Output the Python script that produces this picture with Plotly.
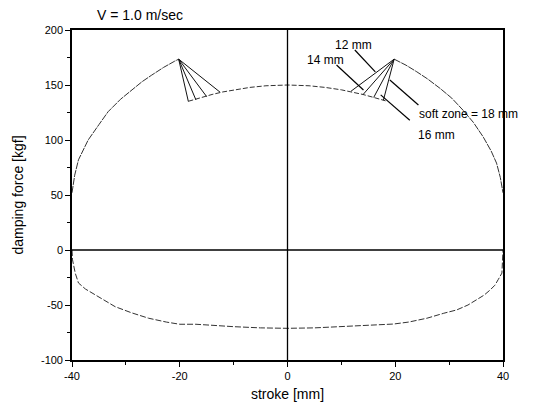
import plotly.graph_objects as go

# Upper (compression) outer curve, left branch
up_left_x = [-40, -39.5, -38.8, -37.0, -35.0, -33.3, -31.0, -28.9, -27.0, -25.2, -23.0, -21.0, -20.2]
up_left_y = [52, 68, 82, 100, 114, 125.7, 137, 145.5, 153, 159, 166, 171.5, 173.5]
# Upper outer curve, right branch
up_right_x = [19.8, 22.0, 24.0, 26.0, 28.3, 30.5, 32.6, 34.5, 36.3, 37.8, 38.8, 39.5, 40]
up_right_y = [173.5, 168, 162, 155.5, 147, 138, 127, 116, 103, 90, 79, 66, 52]
# Upper inner (soft zone) curve
inner_x = [-18.4, -17, -16, -14, -12, -10, -7, -4, 0, 4, 7, 10, 12, 14, 16, 17, 18.2]
inner_y = [135.2, 137.2, 138.7, 141.4, 143.7, 145.6, 147.8, 149.3, 150, 149.3, 147.8, 145.6, 143.7, 141.4, 138.7, 137.2, 135.6]
# Fan lines: peak to soft-zone end points
peak_left = (-20.2, 173.5)
peak_right = (19.8, 173.5)
fan_left_x = [-18.4, -17.0, -15.0, -12.5]
fan_left_y = [135.0, 136.5, 139.4, 143.4]
fan_right_x = [17.8, 16.0, 14.0, 11.8]
fan_right_y = [136.2, 138.7, 141.2, 144.4]
# Lower (rebound) curve
low_x = [-40, -39.9, -39.4, -38.8, -37.5, -36.3, -34, -32, -29, -25.8, -22.5, -20, -17, -14, -10, -5, 0,
         5, 10.4, 14, 17, 19.7, 22.5, 25.9, 29, 31.4, 33.5, 35.1, 36.5, 37.6, 38.5, 39.1, 39.8, 40]
low_y = [0, -9, -21, -30, -35.5, -39, -46, -51.5, -57, -62, -65.5, -67.5, -67.5, -68.5, -69.7, -70.8, -71.2,
         -70.8, -69.5, -68.5, -67.5, -67.3, -65.5, -62, -57.5, -54.5, -50, -45.5, -41, -36.4, -32, -27, -21, 0]

labels = ["12 mm", "14 mm", "soft zone = 18 mm", "16 mm"]
label_x = [8.4, 3.2, 24.0, 23.9]
label_y = [186, 172.7, 123.6, 104.5]
leader_x0 = [12.5, 9.1, 24.3, 22.7]
leader_y0 = [181.8, 168.2, 131.8, 118.0]
leader_x1 = [16.3, 14.1, 19.0, 17.3]
leader_y1 = [162.0, 145.5, 154.5, 141.0]

FONT = "Liberation Sans, Arial, sans-serif"
LC = "#333333"

fig = go.Figure()
fig.add_trace(go.Scatter(x=up_left_x, y=up_left_y, mode="lines", line=dict(color=LC, width=1, dash="7px,1px")))
fig.add_trace(go.Scatter(x=up_right_x, y=up_right_y, mode="lines", line=dict(color=LC, width=1, dash="7px,1px")))
fig.add_trace(go.Scatter(x=inner_x, y=inner_y, mode="lines", line=dict(color=LC, width=1, dash="5px,2px")))
fig.add_trace(go.Scatter(x=low_x, y=low_y, mode="lines", line=dict(color=LC, width=1, dash="6px,2px")))
for fx, fy in zip(fan_left_x, fan_left_y):
    fig.add_trace(go.Scatter(x=[peak_left[0], fx], y=[peak_left[1], fy], mode="lines",
                             line=dict(color="#111", width=1)))
for fx, fy in zip(fan_right_x, fan_right_y):
    fig.add_trace(go.Scatter(x=[peak_right[0], fx], y=[peak_right[1], fy], mode="lines",
                             line=dict(color="#111", width=1)))

# zero lines
fig.add_hline(y=0, line=dict(color="black", width=1.6))
fig.add_vline(x=0, line=dict(color="black", width=1.3))

for t, tx, ty in zip(labels, label_x, label_y):
    fig.add_annotation(x=tx, y=ty, text=t, showarrow=False, xanchor="left", yanchor="middle",
                       font=dict(family=FONT, size=12, color="black"))
for x0, y0, x1, y1 in zip(leader_x0, leader_y0, leader_x1, leader_y1):
    fig.add_shape(type="line", x0=x0, y0=y0, x1=x1, y1=y1, line=dict(color="black", width=1.2))

fig.add_annotation(xref="paper", yref="paper", x=(95 - 72) / 431, y=1 + (30 - 15) / 330,
                   xanchor="left", yanchor="middle", text="V = 1.0 m/sec", showarrow=False,
                   font=dict(family=FONT, size=14, color="black"))

axis_common = dict(showgrid=False, zeroline=False, showline=True, linecolor="black", linewidth=1.6,
                   mirror=True, ticks="outside", ticklen=5, tickwidth=1.3, tickcolor="black",
                   tickfont=dict(family=FONT, size=11, color="black"))
fig.update_xaxes(range=[-40, 40], tickvals=[-40, -20, 0, 20, 40], ticktext=["-40", "-20", "0", "20", "40"],
                 minor=dict(tickvals=[-30, -10, 10, 30], ticks="outside", ticklen=3, tickcolor="black", tickwidth=1),
                 title=dict(text="stroke [mm]", font=dict(family=FONT, size=14, color="black"), standoff=8),
                 **axis_common)
fig.update_yaxes(range=[-100, 200], tickvals=[-100, -50, 0, 50, 100, 150, 200],
                 ticktext=["-100", "-50", "0", "50", "100", "150", "200"],
                 minor=dict(tickvals=[-75, -25, 25, 75, 125, 175], ticks="outside", ticklen=3, tickcolor="black", tickwidth=1),
                 title=dict(text="damping force [kgf]", font=dict(family=FONT, size=14, color="black"), standoff=14),
                 **axis_common)
fig.update_layout(width=533, height=413, margin=dict(l=72, r=30, t=30, b=53),
                  plot_bgcolor="white", paper_bgcolor="white", showlegend=False)
fig.write_html("out.html")
